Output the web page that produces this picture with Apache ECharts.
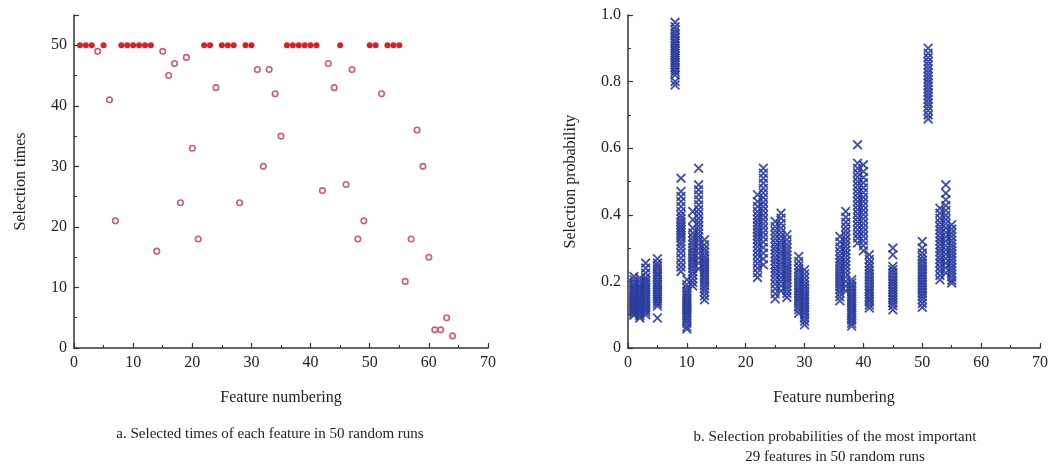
<!DOCTYPE html>
<html>
<head>
<meta charset="utf-8">
<script src="https://cdn.jsdelivr.net/npm/echarts@6/dist/echarts.min.js"></script>
<style>
html,body{margin:0;padding:0;background:#fff;}
#chart{width:1053px;height:467px;}
</style>
</head>
<body>
<div id="chart"></div>
<script>
// ---- Panel a: selection times of features 1..64 ----
const selectedTimes = [
  50,50,50,49,50,41,21,50,50,50, 50,50,50,16,49,45,47,24,48,33,
  18,50,50,43,50,50,50,24,50,50, 46,30,46,42,35,50,50,50,50,50,
  50,26,47,43,50,27,46,18,21,50, 50,42,50,50,50,11,18,36,30,15,
  3,3,5,2
];
const xTicksA = [0,10,20,30,40,50,60,70];
const yTicksA = [0,10,20,30,40,50];

// ---- Panel b: selection probabilities of the 29 most important features ----
const probFeatures = [1,2,3,5,8,9,10,11,12,13,22,23,25,26,27,29,30,36,37,38,39,40,41,45,50,51,53,54,55];
const p1  = [0.215,0.205,0.196,0.188,0.181,0.176,0.17,0.165,0.159,0.153,0.148,0.143,0.139,0.134,0.13,0.126,0.121,0.117,0.113,0.109,0.104,0.098];
const p2  = [0.21,0.2,0.19,0.183,0.177,0.171,0.166,0.16,0.155,0.149,0.144,0.139,0.134,0.129,0.124,0.119,0.114,0.109,0.103,0.097,0.09];
const p3  = [0.255,0.24,0.225,0.212,0.203,0.196,0.189,0.182,0.175,0.168,0.161,0.154,0.147,0.14,0.133,0.127,0.121,0.115,0.108,0.1];
const p5  = [0.268,0.255,0.246,0.238,0.229,0.221,0.213,0.205,0.197,0.19,0.183,0.176,0.169,0.162,0.155,0.148,0.141,0.134,0.126,0.09];
const p8  = [0.978,0.965,0.955,0.946,0.938,0.93,0.922,0.915,0.907,0.9,0.893,0.886,0.878,0.871,0.864,0.857,0.85,0.842,0.835,0.828,0.82,0.8,0.79];
const p9  = [0.51,0.47,0.455,0.44,0.425,0.41,0.398,0.388,0.379,0.37,0.362,0.354,0.346,0.338,0.33,0.32,0.31,0.298,0.285,0.27,0.256,0.243,0.23];
const p10 = [0.205,0.19,0.18,0.171,0.163,0.156,0.149,0.142,0.135,0.129,0.123,0.117,0.111,0.105,0.098,0.091,0.083,0.074,0.064,0.057];
const p11 = [0.41,0.385,0.36,0.345,0.333,0.322,0.312,0.302,0.293,0.284,0.275,0.266,0.257,0.248,0.239,0.229,0.219,0.208,0.197,0.186];
const p12 = [0.54,0.49,0.475,0.46,0.445,0.43,0.416,0.403,0.39,0.378,0.366,0.355,0.344,0.333,0.322,0.31,0.298,0.285,0.27,0.255,0.238];
const p13 = [0.325,0.31,0.298,0.288,0.278,0.269,0.26,0.252,0.244,0.236,0.228,0.22,0.212,0.204,0.196,0.187,0.178,0.168,0.157,0.145];
const p22 = [0.46,0.44,0.425,0.41,0.398,0.387,0.376,0.366,0.356,0.346,0.336,0.326,0.315,0.304,0.292,0.28,0.267,0.254,0.24,0.226,0.212];
const p23 = [0.54,0.525,0.51,0.495,0.48,0.466,0.452,0.438,0.425,0.412,0.399,0.386,0.373,0.36,0.347,0.333,0.318,0.302,0.285,0.268,0.25];
const p25 = [0.38,0.365,0.352,0.34,0.328,0.316,0.305,0.294,0.283,0.272,0.261,0.25,0.239,0.228,0.217,0.205,0.192,0.178,0.163,0.148];
const p26 = [0.405,0.39,0.374,0.36,0.347,0.335,0.323,0.312,0.301,0.29,0.279,0.268,0.257,0.246,0.235,0.224,0.212,0.2,0.187,0.172];
const p27 = [0.34,0.325,0.312,0.3,0.289,0.279,0.269,0.259,0.249,0.24,0.231,0.222,0.213,0.204,0.195,0.185,0.175,0.164,0.152];
const p29 = [0.275,0.26,0.247,0.236,0.226,0.216,0.207,0.198,0.189,0.181,0.173,0.165,0.157,0.149,0.141,0.133,0.124,0.115,0.104];
const p30 = [0.235,0.222,0.21,0.199,0.189,0.18,0.171,0.163,0.155,0.147,0.139,0.131,0.123,0.115,0.107,0.099,0.09,0.08,0.07];
const p36 = [0.335,0.318,0.303,0.29,0.278,0.267,0.257,0.247,0.238,0.229,0.22,0.211,0.202,0.193,0.184,0.175,0.165,0.154,0.142];
const p37 = [0.41,0.393,0.378,0.364,0.351,0.339,0.327,0.315,0.304,0.293,0.282,0.271,0.26,0.249,0.238,0.226,0.214,0.2,0.186,0.172];
const p38 = [0.205,0.195,0.186,0.178,0.17,0.162,0.155,0.148,0.141,0.134,0.127,0.12,0.113,0.106,0.099,0.091,0.083,0.074,0.066];
const p39 = [0.61,0.555,0.54,0.526,0.513,0.5,0.488,0.476,0.464,0.452,0.44,0.428,0.416,0.404,0.392,0.38,0.368,0.355,0.342,0.33,0.315];
const p40 = [0.55,0.53,0.512,0.496,0.481,0.467,0.453,0.44,0.427,0.414,0.401,0.388,0.375,0.362,0.349,0.336,0.322,0.308,0.292];
const p41 = [0.28,0.266,0.254,0.243,0.233,0.223,0.214,0.205,0.196,0.187,0.178,0.17,0.162,0.154,0.146,0.138,0.129,0.12];
const p45 = [0.3,0.28,0.245,0.235,0.226,0.217,0.208,0.2,0.192,0.184,0.176,0.168,0.16,0.152,0.144,0.136,0.127,0.115];
const p50 = [0.32,0.3,0.285,0.274,0.264,0.255,0.246,0.237,0.229,0.221,0.213,0.205,0.197,0.189,0.181,0.173,0.164,0.155,0.145,0.134,0.122];
const p51 = [0.9,0.885,0.872,0.86,0.849,0.838,0.827,0.817,0.807,0.797,0.787,0.777,0.767,0.757,0.747,0.736,0.725,0.713,0.7,0.688];
const p53 = [0.42,0.405,0.39,0.377,0.365,0.354,0.343,0.332,0.321,0.31,0.299,0.288,0.277,0.266,0.255,0.243,0.231,0.218,0.205];
const p54 = [0.49,0.465,0.445,0.428,0.413,0.399,0.386,0.373,0.36,0.347,0.334,0.321,0.308,0.295,0.282,0.269,0.255,0.241,0.226];
const p55 = [0.37,0.357,0.345,0.334,0.323,0.313,0.303,0.293,0.283,0.273,0.263,0.253,0.243,0.233,0.223,0.213,0.203,0.195];
const probValues = [p1,p2,p3,p5,p8,p9,p10,p11,p12,p13,p22,p23,p25,p26,p27,p29,p30,p36,p37,p38,p39,p40,p41,p45,p50,p51,p53,p54,p55];
const yTicksB = [0,0.2,0.4,0.6,0.8,1.0];

// ---- build data ----
const fullData = [], partialData = [];
selectedTimes.forEach((v, i) => {
  (v === 50 ? fullData : partialData).push([i + 1, v]);
});
const probData = [];
probFeatures.forEach((f, i) => probValues[i].forEach(v => probData.push([f, v])));

const FONT = '"Liberation Serif","Times New Roman",serif';
function ax(extra) {
  const base = {
    axisLine: {show: true, onZero: false, lineStyle: {color: '#333', width: 1.5}},
    axisTick: {show: true, inside: true, length: 5, lineStyle: {color: '#333', width: 1.2}},
    minorTick: {show: true, splitNumber: 2, length: 3, lineStyle: {color: '#333', width: 1}},
    splitLine: {show: false},
    axisLabel: {color: '#222', fontFamily: FONT, fontSize: 16, margin: 7},
    nameTextStyle: {color: '#222', fontFamily: FONT, fontSize: 16}
  };
  return Object.assign(base, extra);
}

const crossPath = 'path://M0,1.3L1.3,0L10,8.7L8.7,10Z M8.7,0L10,1.3L1.3,10L0,8.7Z';

const chart = echarts.init(document.getElementById('chart'), null, {renderer: 'canvas'});
chart.setOption({
  animation: false,
  backgroundColor: '#fff',
  grid: [
    {left: 74, top: 15, width: 414, height: 333},
    {left: 628, top: 15, width: 412, height: 333}
  ],
  xAxis: [
    ax({gridIndex: 0, type: 'value', min: xTicksA[0], max: xTicksA[xTicksA.length - 1], interval: 10,
        name: 'Feature numbering', nameLocation: 'middle', nameGap: 42}),
    ax({gridIndex: 1, type: 'value', min: 0, max: 70, interval: 10,
        name: 'Feature numbering', nameLocation: 'middle', nameGap: 42})
  ],
  yAxis: [
    ax({gridIndex: 0, type: 'value', min: yTicksA[0], max: 55, interval: 10,
        name: 'Selection times', nameLocation: 'middle', nameGap: 45,
        axisLabel: {color: '#222', fontFamily: FONT, fontSize: 16, margin: 7, showMaxLabel: false,
          formatter: v => (yTicksA.indexOf(v) >= 0 ? String(v) : '')}}),
    ax({gridIndex: 1, type: 'value', min: yTicksB[0], max: yTicksB[yTicksB.length - 1], interval: 0.2,
        name: 'Selection probability', nameLocation: 'middle', nameGap: 49,
        axisLabel: {color: '#222', fontFamily: FONT, fontSize: 16, margin: 7,
          formatter: v => (v === 0 ? '0' : v.toFixed(1))}})
  ],
  series: [
    {type: 'scatter', xAxisIndex: 0, yAxisIndex: 0, data: fullData, symbol: 'circle', symbolSize: 6,
     itemStyle: {color: '#e11b22', opacity: 1}},
    {type: 'scatter', xAxisIndex: 0, yAxisIndex: 0, data: partialData, symbol: 'circle', symbolSize: 5.5,
     itemStyle: {color: '#fff', borderColor: '#cc5f6e', borderWidth: 1.6, opacity: 1}},
    {type: 'scatter', xAxisIndex: 1, yAxisIndex: 1, data: probData, symbol: crossPath, symbolSize: 10,
     itemStyle: {color: '#2c3d9e', opacity: 0.9}}
  ],
  graphic: [
    {type: 'text', x: 270, y: 427, style: {text: 'a. Selected times of each feature in 50 random runs',
      font: '15px ' + FONT, fill: '#222', align: 'center'}},
    {type: 'text', x: 835, y: 427, style: {text: 'b. Selection probabilities of the most important\n29 features in 50 random runs',
      font: '15px ' + FONT, fill: '#222', align: 'center', lineHeight: 20}}
  ]
});
</script>
</body>
</html>
